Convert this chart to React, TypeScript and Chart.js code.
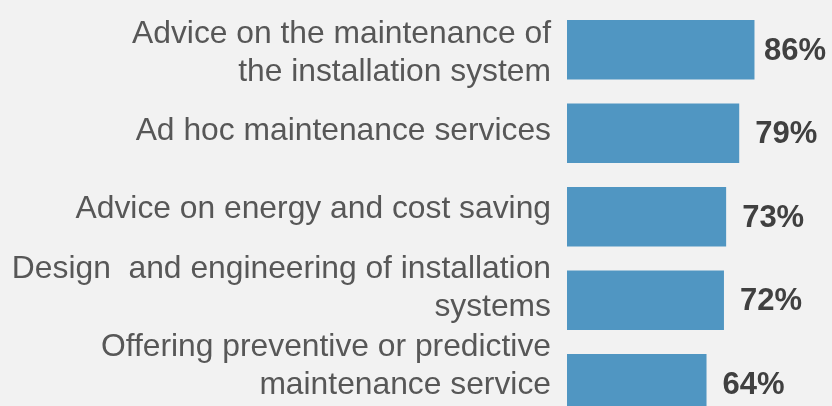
import { useEffect, useRef } from 'react';
import { Chart, registerables } from 'chart.js';

Chart.register(...registerables);

const categories: string[][] = [
  ['Advice on the maintenance of', 'the installation system'],
  ['Ad hoc maintenance services'],
  ['Advice on energy and cost saving'],
  ['Design  and engineering of installation', 'systems'],
  ['Offering preventive or predictive', 'maintenance service'],
];
const values: number[] = [86, 79, 73, 72, 64];
const valueLabels: string[] = values.map((v) => `${v}%`);

const FONT = '"Liberation Sans", Arial, Helvetica, sans-serif';

export default function App() {
  const ref = useRef<HTMLCanvasElement>(null);

  useEffect(() => {
    const bg = {
      id: 'bg',
      beforeDraw(c: any) {
        const ctx = c.ctx;
        ctx.save();
        ctx.fillStyle = '#f2f2f2';
        ctx.fillRect(0, 0, c.width, c.height);
        ctx.restore();
      },
    };
    const valuePlugin = {
      id: 'vals',
      afterDatasetsDraw(c: any) {
        const ctx = c.ctx;
        const meta = c.getDatasetMeta(0);
        ctx.save();
        ctx.font = `bold 31px ${FONT}`;
        ctx.fillStyle = '#404040';
        ctx.textBaseline = 'middle';
        ctx.textAlign = 'left';
        meta.data.forEach((bar: any, i: number) => {
          const t = valueLabels[i];
          const w = ctx.measureText(t).width;
          const x = Math.min(bar.x + 16, c.width - w - 6);
          ctx.fillText(t, x, bar.y + 1.5);
        });
        ctx.restore();
      },
    };
    const onlyIntegers = (s: any) => {
      s.ticks = s.ticks.filter((t: any) => Number.isInteger(t.value));
    };
    const chart = new Chart(ref.current!, {
      type: 'bar',
      data: {
        datasets: [
          {
            data: values.map((v, i) => ({ x: v, y: i })),
            backgroundColor: '#5096c2',
            borderWidth: 0,
            categoryPercentage: 1,
            barPercentage: 0.712,
            yAxisID: 'y',
          },
        ],
      },
      options: {
        indexAxis: 'y',
        animation: false,
        responsive: false,
        events: [],
        layout: { padding: { left: 0, right: 47, top: 0, bottom: 0 } },
        plugins: { legend: { display: false }, tooltip: { enabled: false } },
        scales: {
          x: { type: 'linear', min: 0, max: 100, display: false },
          y: {
            type: 'linear',
            reverse: true,
            offset: false,
            min: -0.595,
            max: 4.266,
            display: false,
            ticks: { stepSize: 1 },
            afterBuildTicks: onlyIntegers,
          },
          yl: {
            type: 'linear',
            position: 'left',
            reverse: true,
            offset: false,
            min: -0.678,
            max: 4.507,
            grid: { display: false, drawTicks: false },
            border: { display: false },
            ticks: {
              stepSize: 1,
              autoSkip: false,
              padding: 16,
              color: '#575757',
              font: { family: FONT, size: 31.8, lineHeight: 1.18 },
              callback: (v: any) => categories[v as number] ?? '',
            },
            afterBuildTicks: onlyIntegers,
            afterFit: (s: any) => {
              s.width = 567;
              s.paddingTop = 0;
              s.paddingBottom = 0;
              if (s._margins) {
                s._margins.top = 0;
                s._margins.bottom = 0;
              }
            },
          },
        } as any,
      },
      plugins: [bg, valuePlugin],
    });
    return () => chart.destroy();
  }, []);

  return (
    <div style={{ position: 'fixed', left: 0, top: 0, width: 832, height: 406, background: '#f2f2f2' }}>
      <canvas ref={ref} width={832} height={406} style={{ display: 'block' }} />
    </div>
  );
}
